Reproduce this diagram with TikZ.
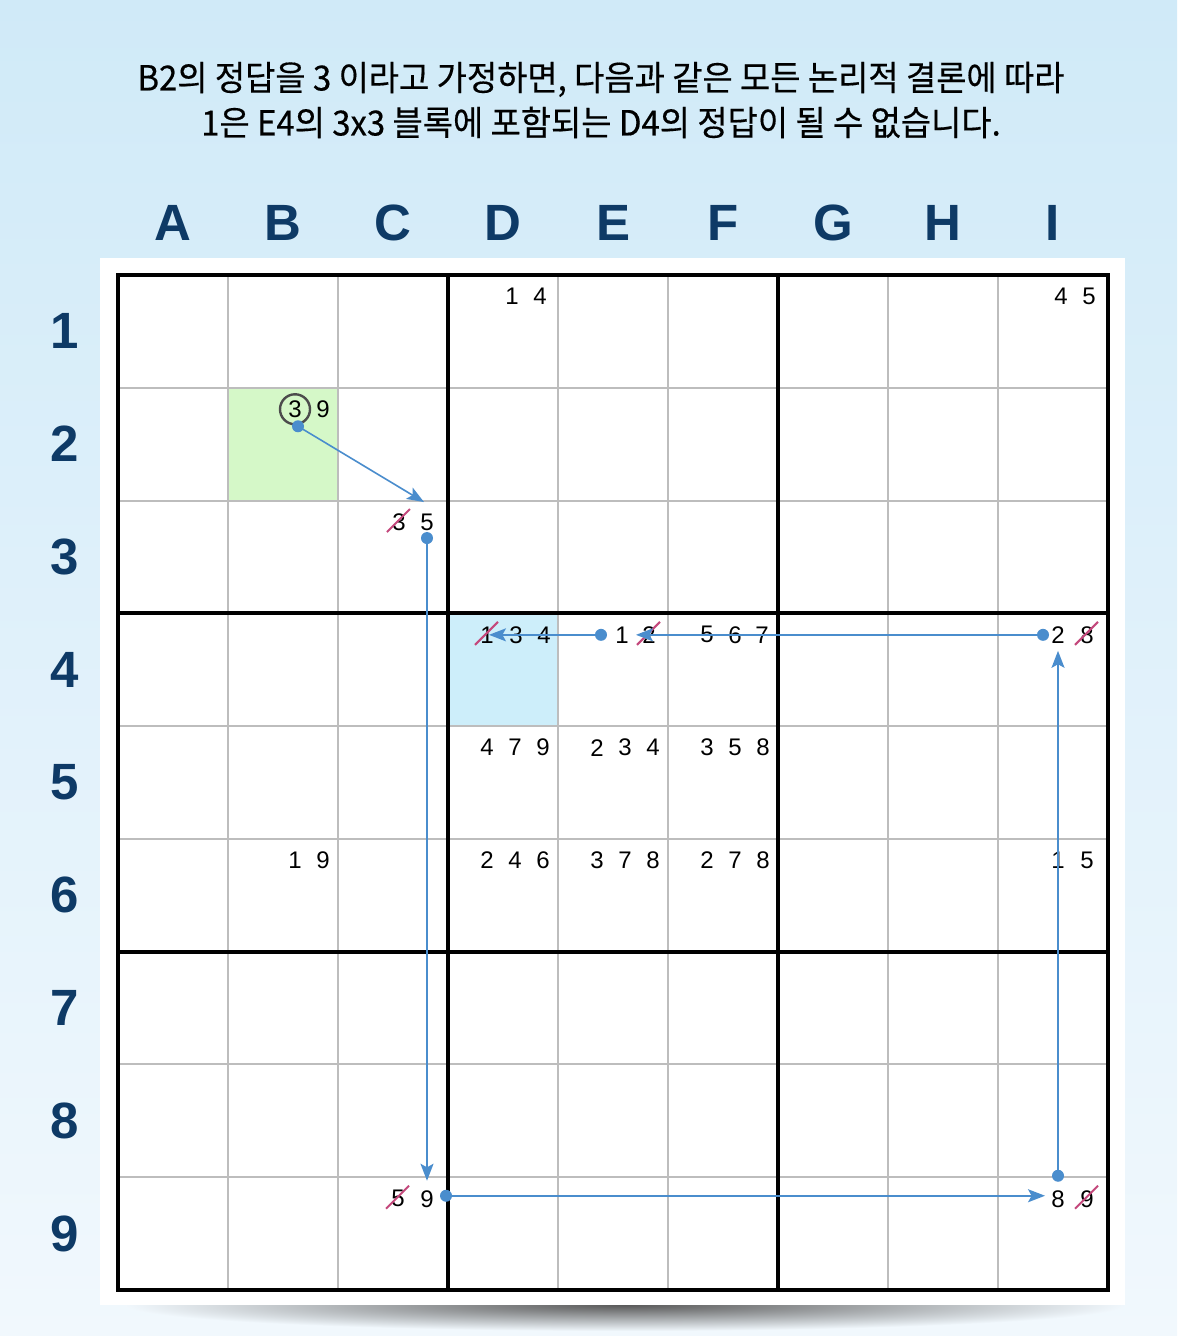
\documentclass[tikz,border=0pt]{standalone}
\usepackage{fontspec}
\setmainfont{Liberation Sans}
\newfontfamily\krfont[FakeStretch=0.95,FakeBold=0.4]{Noto Sans CJK KR}
\usetikzlibrary{arrows.meta, calc}

\definecolor{bgtop}{HTML}{D0EAF8}
\definecolor{bgbot}{HTML}{F1F8FD}
\definecolor{labelblue}{HTML}{0E3A66}
\definecolor{linkblue}{HTML}{4A8DCD}
\definecolor{strikered}{HTML}{C4487C}
\definecolor{thingray}{HTML}{BDBDBD}
\definecolor{cellgreen}{HTML}{D5F8C8}
\definecolor{cellblue}{HTML}{CDEEFA}

\begin{document}
\begin{tikzpicture}[x=0.5pt,y=-0.5pt,>={Stealth[length=8.5pt,width=6.5pt,inset=1.8pt]}]
    \tikzstyle{cand}=[inner sep=0pt,font=\fontsize{12}{12}\selectfont,text=black]
    \tikzstyle{axis label}=[inner sep=0pt,font=\fontsize{25.5}{25.5}\selectfont\bfseries,text=labelblue]
    \tikzstyle{thin line}=[draw=thingray,line width=1pt]
    \tikzstyle{block line}=[draw=black,line width=2pt]
    \tikzstyle{link}=[->,draw=linkblue,line width=0.8pt]
    \tikzstyle{bluedot}=[fill=linkblue]
    \tikzstyle{strike}=[draw=strikered,line width=1pt]

    % background, shadow and white panel
    \shade[top color=bgtop,bottom color=bgbot] (0,0) rectangle (1177,1336);
    \useasboundingbox (0,0) rectangle (1177,1336);
    \shade[inner color=black!65,outer color=bgbot] (625,1305) ellipse [x radius=250pt,y radius=13pt];
    \fill[white] (100,258) rectangle (1125,1305);

    % title
    \node[font=\krfont\fontsize{17.3}{22.5}\selectfont,align=center] (title) at (601,100)
        {B2의 정답을 3 이라고 가정하면, 다음과 같은 모든 논리적 결론에 따라\\
         1은 E4의 3x3 블록에 포함되는 D4의 정답이 될 수 없습니다.};

    % highlighted cells
    \fill[cellgreen] (228,387.8) rectangle (338,500.6);
    \fill[cellblue] (448,613.3) rectangle (558,726.1);

    % grid
    \foreach \i in {1,2,4,5,7,8} {
        \draw[thin line] ({118+110*\i},275) -- ({118+110*\i},1290);
        \draw[thin line] (118,{275+112.78*\i}) -- (1108,{275+112.78*\i});
    }
    \foreach \i in {3,6} {
        \draw[block line] ({118+110*\i},275) -- ({118+110*\i},1290);
        \draw[block line] (118,{275+112.78*\i}) -- (1108,{275+112.78*\i});
    }
    \draw[block line,line width=2.4pt] (118,275) rectangle (1108,1290);

    % column and row labels
    \foreach \l [count=\i] in {A,B,C,D,E,F,G,H,I}
        \node[axis label] (col\l) at ({63+110*\i},223) {\l};
    \foreach \i in {1,...,9}
        \node[axis label] (row\i) at (65,{218.6+112.78*\i}) {\i};

    % candidates: column/row/offset from right edge/digit
    \foreach \c/\r/\o/\d in {4/1/-46/1, 4/1/-18/4, 9/1/-47/4, 9/1/-19/5,
            2/2/-43/3, 2/2/-15/9, 3/3/-49/3, 3/3/-21/5,
            4/4/-71/1, 4/4/-42/3, 4/4/-14/4, 5/4/-46/1, 5/4/-19/2,
            6/4/-71/5, 6/4/-43/6, 6/4/-16/7, 9/4/-50/2, 9/4/-21/8,
            4/5/-71/4, 4/5/-43/7, 4/5/-15/9, 5/5/-71/2, 5/5/-43/3, 5/5/-15/4,
            6/5/-71/3, 6/5/-43/5, 6/5/-15/8,
            2/6/-43/1, 2/6/-15/9, 4/6/-71/2, 4/6/-43/4, 4/6/-15/6,
            5/6/-71/3, 5/6/-43/7, 5/6/-15/8, 6/6/-71/2, 6/6/-43/7, 6/6/-15/8,
            9/6/-50/1, 9/6/-21/5, 3/9/-50/5, 3/9/-21/9, 9/9/-50/8, 9/9/-21/9}
        \node[cand] (c\c r\r d\d) at ({118+110*\c+\o},{296.5+112.78*(\r-1)}) {\d};

    % assumed value
    \draw[black!70,line width=1.2pt] (c2r2d3) circle[radius=7.5pt];

    % eliminated candidates
    \foreach \n in {c3r3d3, c3r9d5, c9r4d8, c9r9d9, c5r4d2, c4r4d1}
        \draw[strike] ($(\n)+(-12,10)$) -- ($(\n)+(11,-13)$);

    % chain of implications
    \coordinate (s1) at ($(c2r2d3)+(3,17)$);
    \coordinate (t1) at ($(c3r3d5)+(-3,-20)$);
    \coordinate (s2) at ($(c3r3d5)+(0,16)$);
    \coordinate (t2) at ($(c3r9d9)+(0,-18)$);
    \coordinate (s3) at ($(c3r9d9)+(19,-3)$);
    \coordinate (t3) at ($(c9r9d8)+(-13,-3)$);
    \coordinate (s4) at ($(c9r9d8)+(0,-23)$);
    \coordinate (t4) at ($(c9r4d2)+(0,16)$);
    \coordinate (s5) at ($(c9r4d2)+(-15,0)$);
    \coordinate (t5) at ($(c5r4d2)+(-13,0)$);
    \coordinate (s6) at ($(c5r4d1)+(-21,0)$);
    \coordinate (t6) at ($(c4r4d1)+(2,0)$);
    \foreach \k in {1,...,6} {
        \draw[link] (s\k) -- (t\k);
        \fill[bluedot] (s\k) circle[radius=3pt];
    }
\end{tikzpicture}
\end{document}
